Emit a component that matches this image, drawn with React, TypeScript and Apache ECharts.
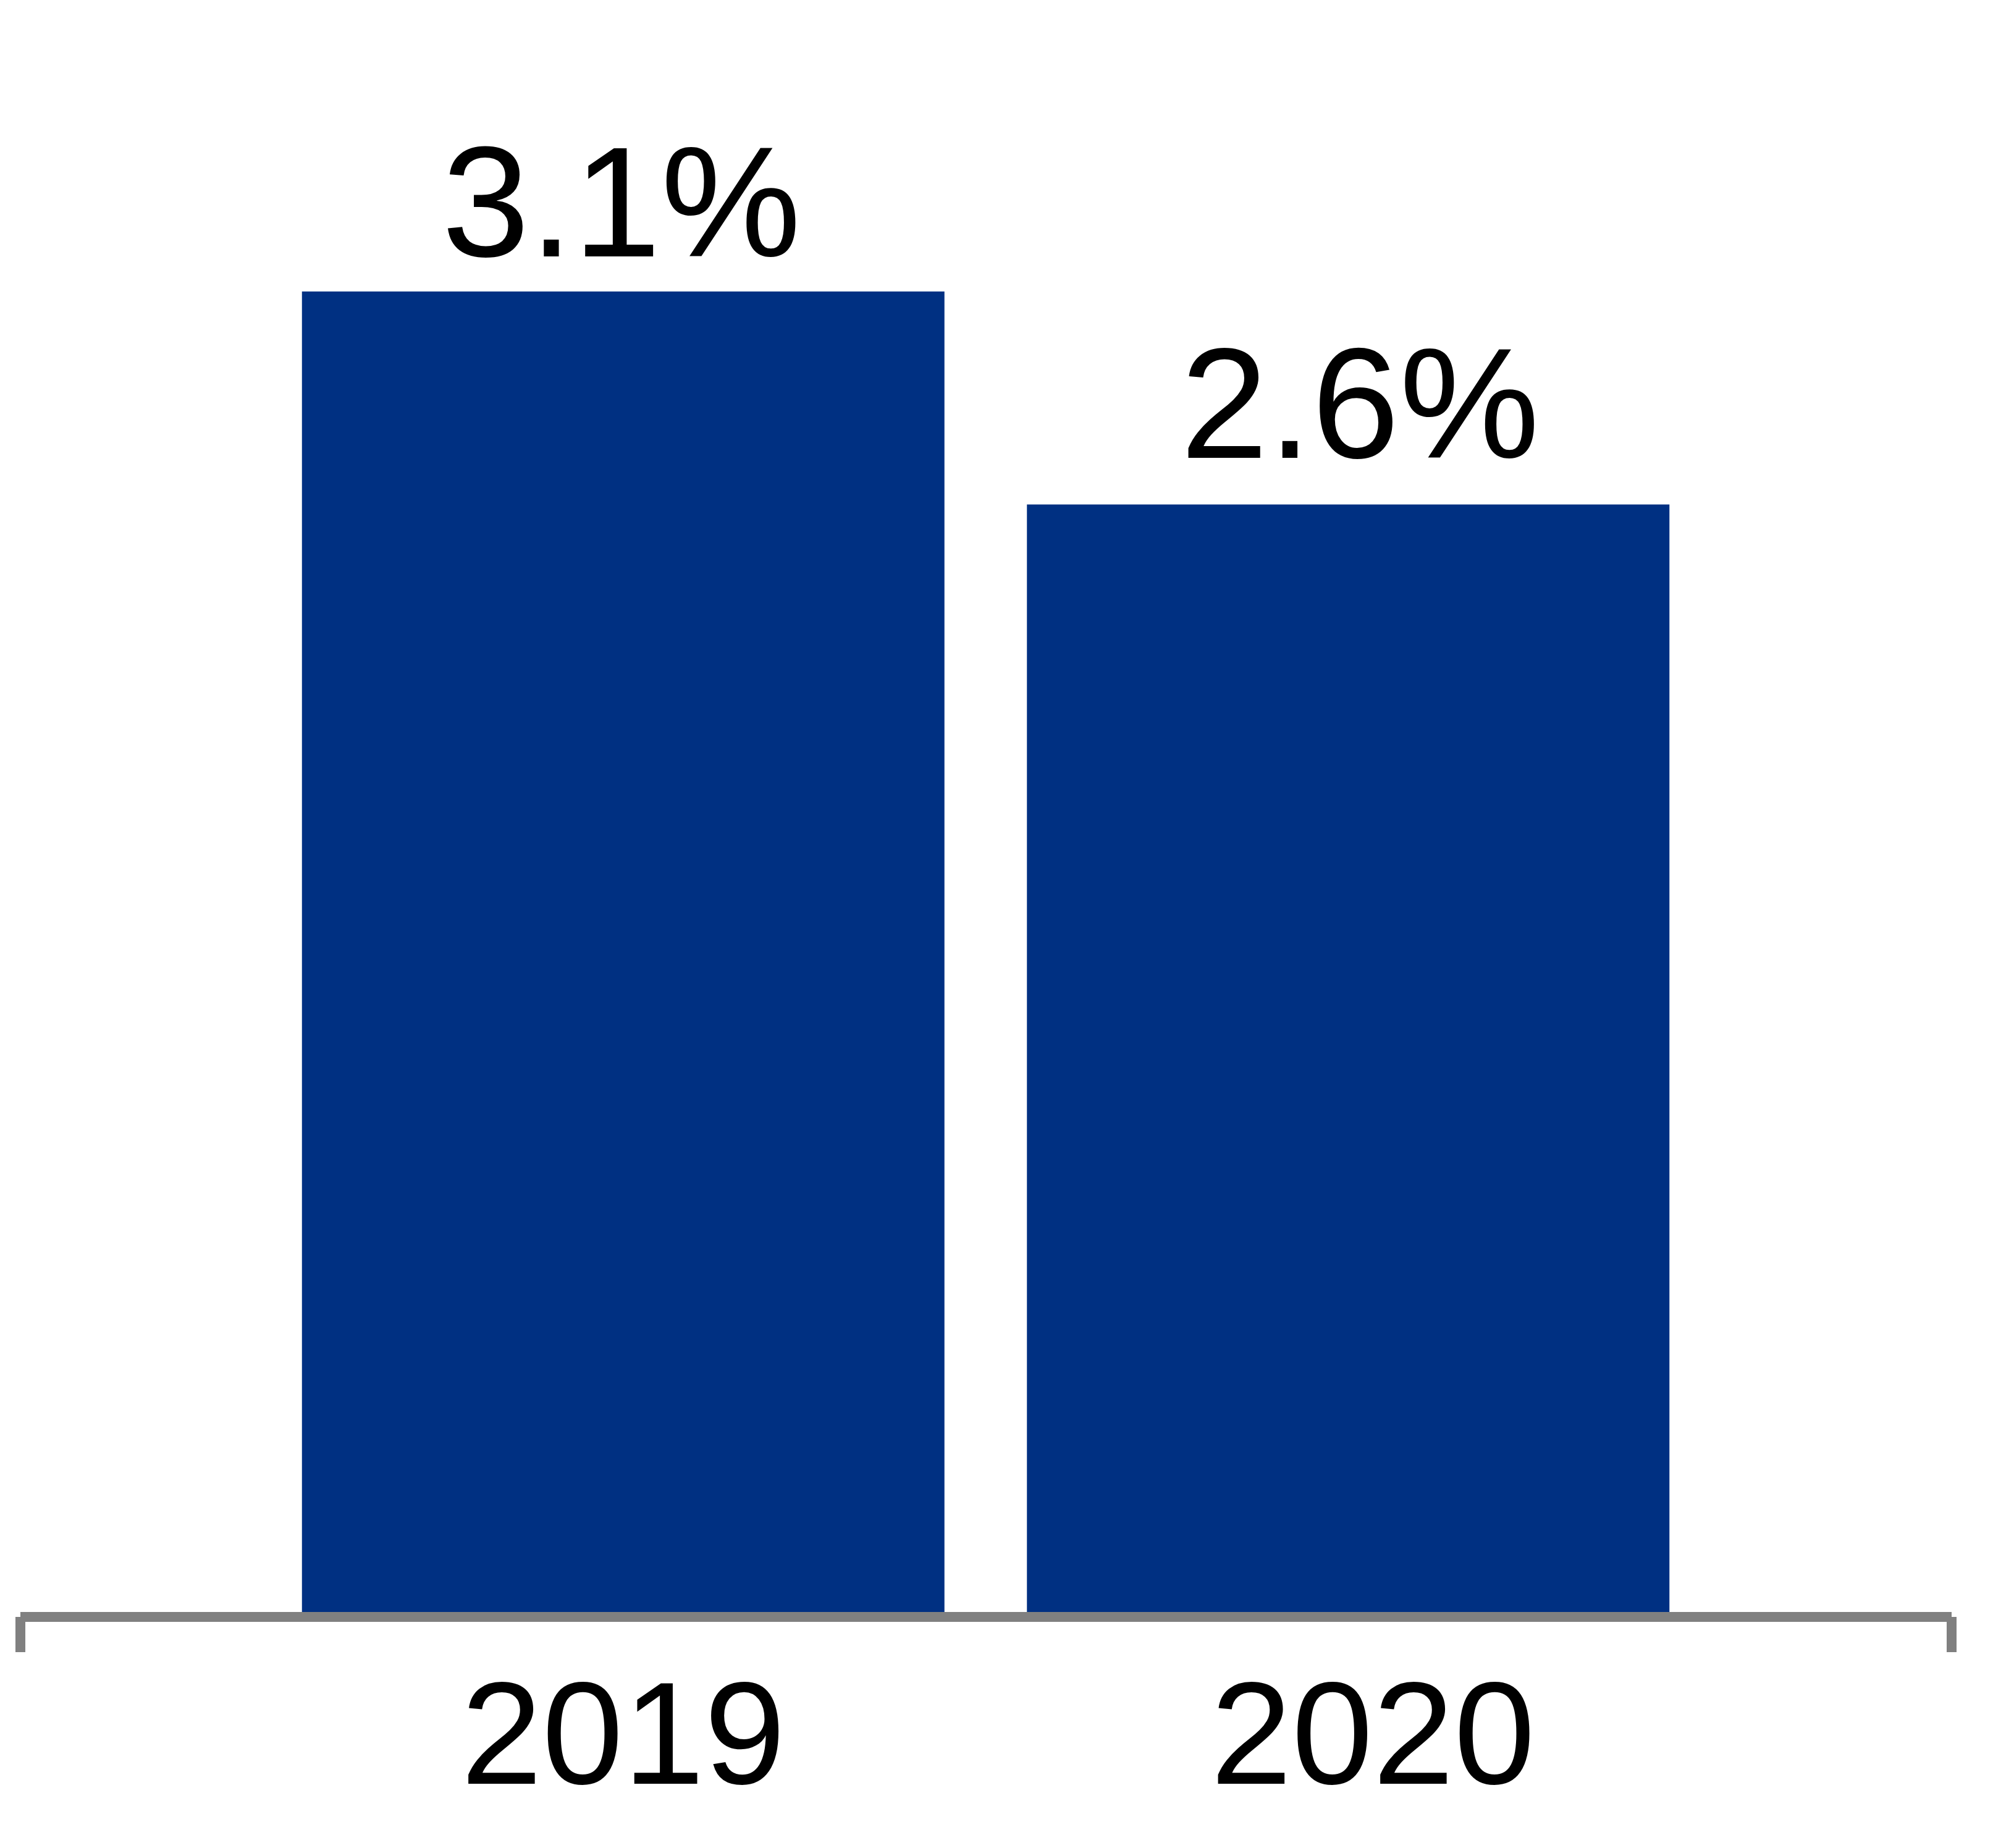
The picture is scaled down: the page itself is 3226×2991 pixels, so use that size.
import React, { useEffect, useRef } from "react";
import * as echarts from "echarts";

const categories = ["2019", "2020"];
const values = [3.1, 2.6];
const valueLabels = ["3.1%", "2.6%"];

const FONT = "Arial";

export default function App() {
  const ref = useRef<HTMLDivElement>(null);
  useEffect(() => {
    document.body.style.margin = "0";
    if (!ref.current) return;
    const chart = echarts.init(ref.current, null, { renderer: "svg" });
    const option = {
      animation: false,
      backgroundColor: "#ffffff",
      grid: [
        { left: 422, right: 457, top: 196, bottom: 382 },
        { left: 33, right: 67, top: 2000, bottom: 374 },
      ],
      xAxis: [
        {
          type: "category",
          gridIndex: 0,
          data: categories.map((c, i) =>
            i === 1 ? { value: c, textStyle: { padding: [0, 0, 0, 80] } } : c
          ),
          axisLine: { show: false },
          axisTick: { show: false },
          axisLabel: {
            margin: 78,
            fontSize: 236,
            lineHeight: 236,
            color: "#000000",
            fontFamily: FONT,
          },
        },
        {
          type: "value",
          gridIndex: 1,
          min: 0,
          max: 1,
          interval: 1,
          axisLine: { show: true, lineStyle: { color: "#808080", width: 16, cap: "butt" } },
          axisTick: { show: true, length: 57, lineStyle: { color: "#808080", width: 16, cap: "butt" } },
          axisLabel: { show: false },
          splitLine: { show: false },
        },
      ],
      yAxis: [
        { type: "value", gridIndex: 0, min: 0, max: 3.5, show: false, splitLine: { show: false } },
        { type: "value", gridIndex: 1, min: 0, max: 1, show: false, splitLine: { show: false } },
      ],
      series: [
        {
          type: "bar",
          xAxisIndex: 0,
          yAxisIndex: 0,
          barWidth: 1040,
          itemStyle: { color: "#003082" },
          data: values.map((v, i) => ({
            value: v,
            label: {
              show: true,
              position: "top",
              distance: i === 0 ? 18 : 36,
              offset: i === 0 ? [-3, 0] : [19, 0],
              formatter: () => valueLabels[i],
              fontSize: 255,
              lineHeight: 255,
              color: "#000000",
              fontFamily: FONT,
            },
          })),
        },
      ],
    };
    chart.setOption(option as any);
    return () => chart.dispose();
  }, []);
  return <div ref={ref} style={{ width: 3226, height: 2991 }} />;
}
